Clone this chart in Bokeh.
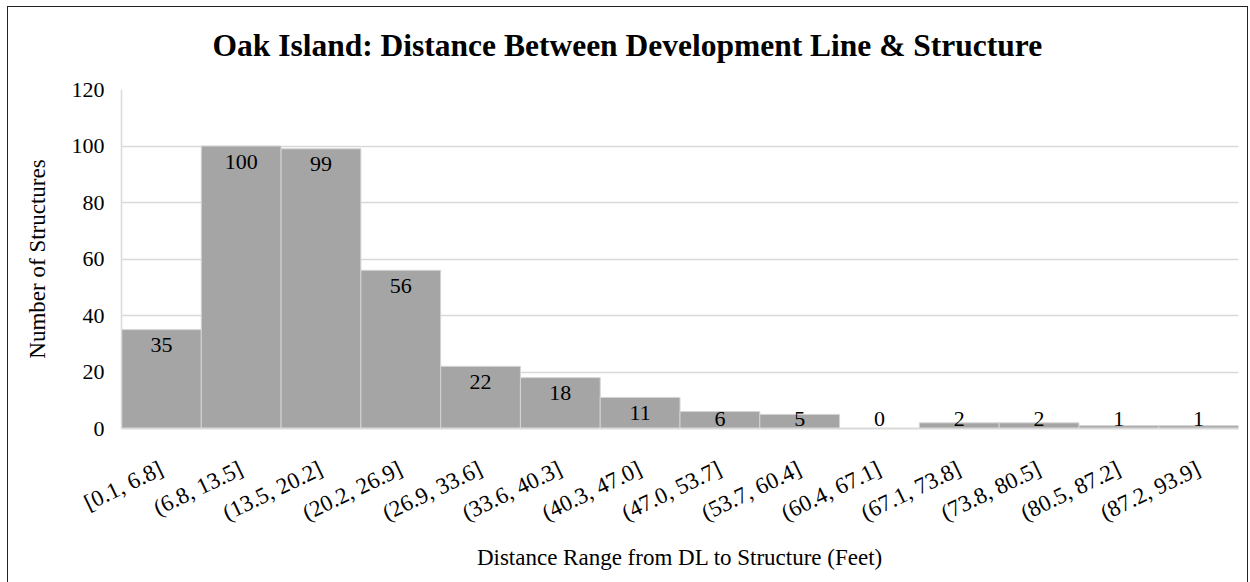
from bokeh.plotting import figure
from bokeh.models import ColumnDataSource, FactorRange, Range1d, FixedTicker, Title
from bokeh.core.properties import value
from bokeh.embed import file_html
from bokeh.resources import INLINE

categories = ["[0.1, 6.8]", "(6.8, 13.5]", "(13.5, 20.2]", "(20.2, 26.9]", "(26.9, 33.6]",
              "(33.6, 40.3]", "(40.3, 47.0]", "(47.0, 53.7]", "(53.7, 60.4]", "(60.4, 67.1]",
              "(67.1, 73.8]", "(73.8, 80.5]", "(80.5, 87.2]", "(87.2, 93.9]"]
counts = [35, 100, 99, 56, 22, 18, 11, 6, 5, 0, 2, 2, 1, 1]
y_ticks = [0, 20, 40, 60, 80, 100, 120]
title_text = "Oak Island: Distance Between Development Line & Structure"

FONT = "Liberation Serif"

label_y = [max(c - 5.5, 3.5) for c in counts]
src = ColumnDataSource(dict(cat=categories, cnt=counts, ly=label_y,
                            txt=[str(c) for c in counts]))

p = figure(x_range=FactorRange(factors=categories, range_padding=0),
           y_range=Range1d(0, 120),
           width=1241, height=576, output_backend="svg", toolbar_location=None,
           min_border_left=113, min_border_right=11, min_border_top=82, min_border_bottom=155,
           title=title_text,
           styles={"border-left": "1px solid #222", "border-top": "1px solid #222",
                   "border-right": "1px solid #222", "box-sizing": "border-box",
                   "margin-left": "7px", "margin-top": "6px"})

p.vbar(x="cat", top="cnt", width=1.0, source=src, fill_color="#a5a5a5",
       line_color="#d4d4d4", line_width=1)
p.text(x="cat", y="ly", text="txt", source=src, text_align="center",
       text_baseline="middle", text_font=value(FONT), text_font_size="22px",
       text_color="#000000")

p.title.text_font = FONT
p.title.text_font_size = "31.5px"
p.title.text_font_style = "bold"
p.title.align = "left"
p.title.offset = 91
p.title.standoff = 0
p.title.text_color = "#000000"

# blank spacer between title and plot area
spacer = Title(text=" ", text_font_size="2px", standoff=23)
p.add_layout(spacer, "above")

p.outline_line_color = None
p.background_fill_color = "white"

p.xgrid.grid_line_color = None
p.ygrid.grid_line_color = "#d9d9d9"
p.ygrid.grid_line_width = 1.5
p.ygrid.ticker = FixedTicker(ticks=y_ticks)

p.yaxis.ticker = FixedTicker(ticks=y_ticks)
p.yaxis.axis_line_color = "#d9d9d9"
p.yaxis.axis_line_width = 1.5
p.yaxis.major_tick_line_color = None
p.yaxis.minor_tick_line_color = None
p.yaxis.major_tick_out = 0
p.yaxis.major_tick_in = 0
p.yaxis.major_label_standoff = 17
p.yaxis.major_label_text_font = FONT
p.yaxis.major_label_text_font_size = "22px"
p.yaxis.major_label_text_color = "#000000"
p.yaxis.axis_label = "Number of Structures"
p.yaxis.axis_label_text_font = FONT
p.yaxis.axis_label_text_font_size = "23px"
p.yaxis.axis_label_text_font_style = "normal"
p.yaxis.axis_label_text_color = "#000000"
p.yaxis.axis_label_standoff = 19

p.xaxis.axis_line_color = "#d9d9d9"
p.xaxis.axis_line_width = 2
p.xaxis.major_tick_line_color = None
p.xaxis.minor_tick_line_color = None
p.xaxis.major_tick_out = 0
p.xaxis.major_tick_in = 0
p.xaxis.major_label_orientation = 0.45
p.xaxis.major_label_standoff = 39
p.xaxis.major_label_text_font = FONT
p.xaxis.major_label_text_font_size = "23px"
p.xaxis.major_label_text_color = "#000000"
p.xaxis.axis_label = "Distance Range from DL to Structure (Feet)"
p.xaxis.axis_label_text_font = FONT
p.xaxis.axis_label_text_font_size = "23px"
p.xaxis.axis_label_text_font_style = "normal"
p.xaxis.axis_label_text_color = "#000000"
p.xaxis.axis_label_standoff = 5

open("out.html", "w").write(file_html(p, INLINE))
